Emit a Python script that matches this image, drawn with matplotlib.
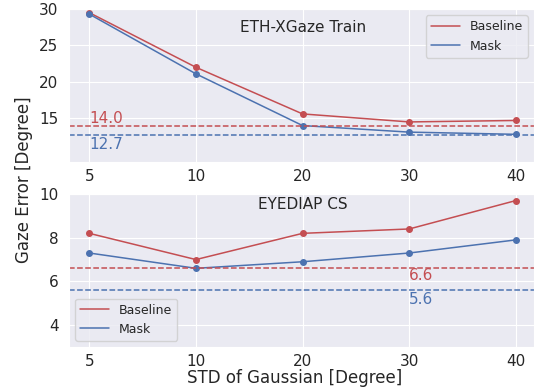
import matplotlib
matplotlib.use("Agg")
import matplotlib.pyplot as plt
from matplotlib.lines import Line2D
import seaborn as sns

sns.set_style("darkgrid")
plt.rcParams['font.family'] = ['DejaVu Sans']

stds = ["5", "10", "20", "30", "40"]
eth_baseline = [29.5, 22.0, 15.6, 14.5, 14.7]
eth_mask = [29.3, 21.1, 14.0, 13.1, 12.8]
eth_base_ref = 14.0
eth_mask_ref = 12.7
eyediap_baseline = [8.2, 7.0, 8.2, 8.4, 9.7]
eyediap_mask = [7.3, 6.6, 6.9, 7.3, 7.9]
eyediap_base_ref = 6.6
eyediap_mask_ref = 5.6

RED = "#C44E52"
BLUE = "#4C72B0"
W, H = 536, 387
fig = plt.figure(figsize=(W / 100, H / 100), dpi=100)

def px_axes(l, t, r, b):
    return fig.add_axes([l / W, 1 - b / H, (r - l) / W, (b - t) / H])

ax1 = px_axes(69, 9, 534, 162)
ax2 = px_axes(69, 194, 534, 347)
xs = list(range(len(stds)))

for ax in (ax1, ax2):
    ax.set_xticks(xs)
    ax.set_xticklabels(stds)
    ax.set_xlim(-0.19, 4.17)
    ax.tick_params(axis='x', labelsize=11, pad=1.5, colors='#262626')
    ax.tick_params(axis='y', labelsize=11, pad=4, colors='#262626')

handles = [Line2D([], [], color=RED, lw=1.1), Line2D([], [], color=BLUE, lw=1.1)]
labels = ["Baseline", "Mask"]

ax1.plot(xs, eth_baseline, '-o', color=RED, lw=1.1, ms=4)
ax1.plot(xs, eth_mask, '-o', color=BLUE, lw=1.1, ms=4)
ax1.axhline(eth_base_ref, color=RED, ls='--', lw=1.1)
ax1.axhline(eth_mask_ref, color=BLUE, ls='--', lw=1.1)
ax1.text(0, 15.0, f"{eth_base_ref:.1f}", color=RED, fontsize=11, va='center', ha='left')
ax1.text(0, 11.4, f"{eth_mask_ref:.1f}", color=BLUE, fontsize=11, va='center', ha='left')
ax1.set_ylim(9, 30)
ax1.set_yticks([15, 20, 25, 30])
ax1.text(0.503, 0.88, "ETH-XGaze Train", transform=ax1.transAxes, fontsize=11,
         ha='center', va='center', color='#262626')
ax1.legend(handles, labels, loc='upper right', fontsize=9, frameon=True, handlelength=2.3)

ax2.plot(xs, eyediap_baseline, '-o', color=RED, lw=1.1, ms=4)
ax2.plot(xs, eyediap_mask, '-o', color=BLUE, lw=1.1, ms=4)
ax2.axhline(eyediap_base_ref, color=RED, ls='--', lw=1.1)
ax2.axhline(eyediap_mask_ref, color=BLUE, ls='--', lw=1.1)
ax2.text(3, 6.27, f"{eyediap_base_ref:.1f}", color=RED, fontsize=11, va='center', ha='left')
ax2.text(3, 5.17, f"{eyediap_mask_ref:.1f}", color=BLUE, fontsize=11, va='center', ha='left')
ax2.set_ylim(3, 10)
ax2.set_yticks([4, 6, 8, 10])
ax2.text(0.503, 0.93, "EYEDIAP CS", transform=ax2.transAxes, fontsize=11,
         ha='center', va='center', color='#262626')
ax2.legend(handles, labels, loc='lower left', fontsize=9, frameon=True, handlelength=2.3)

fig.text(295 / W, 1 - 378 / H, "STD of Gaussian [Degree]", fontsize=12,
         ha='center', va='center', color='#262626')
fig.text(24 / W, 1 - 180 / H, "Gaze Error [Degree]", fontsize=12, rotation=90,
         ha='center', va='center', color='#262626')

fig.savefig("out.png", dpi=100)
